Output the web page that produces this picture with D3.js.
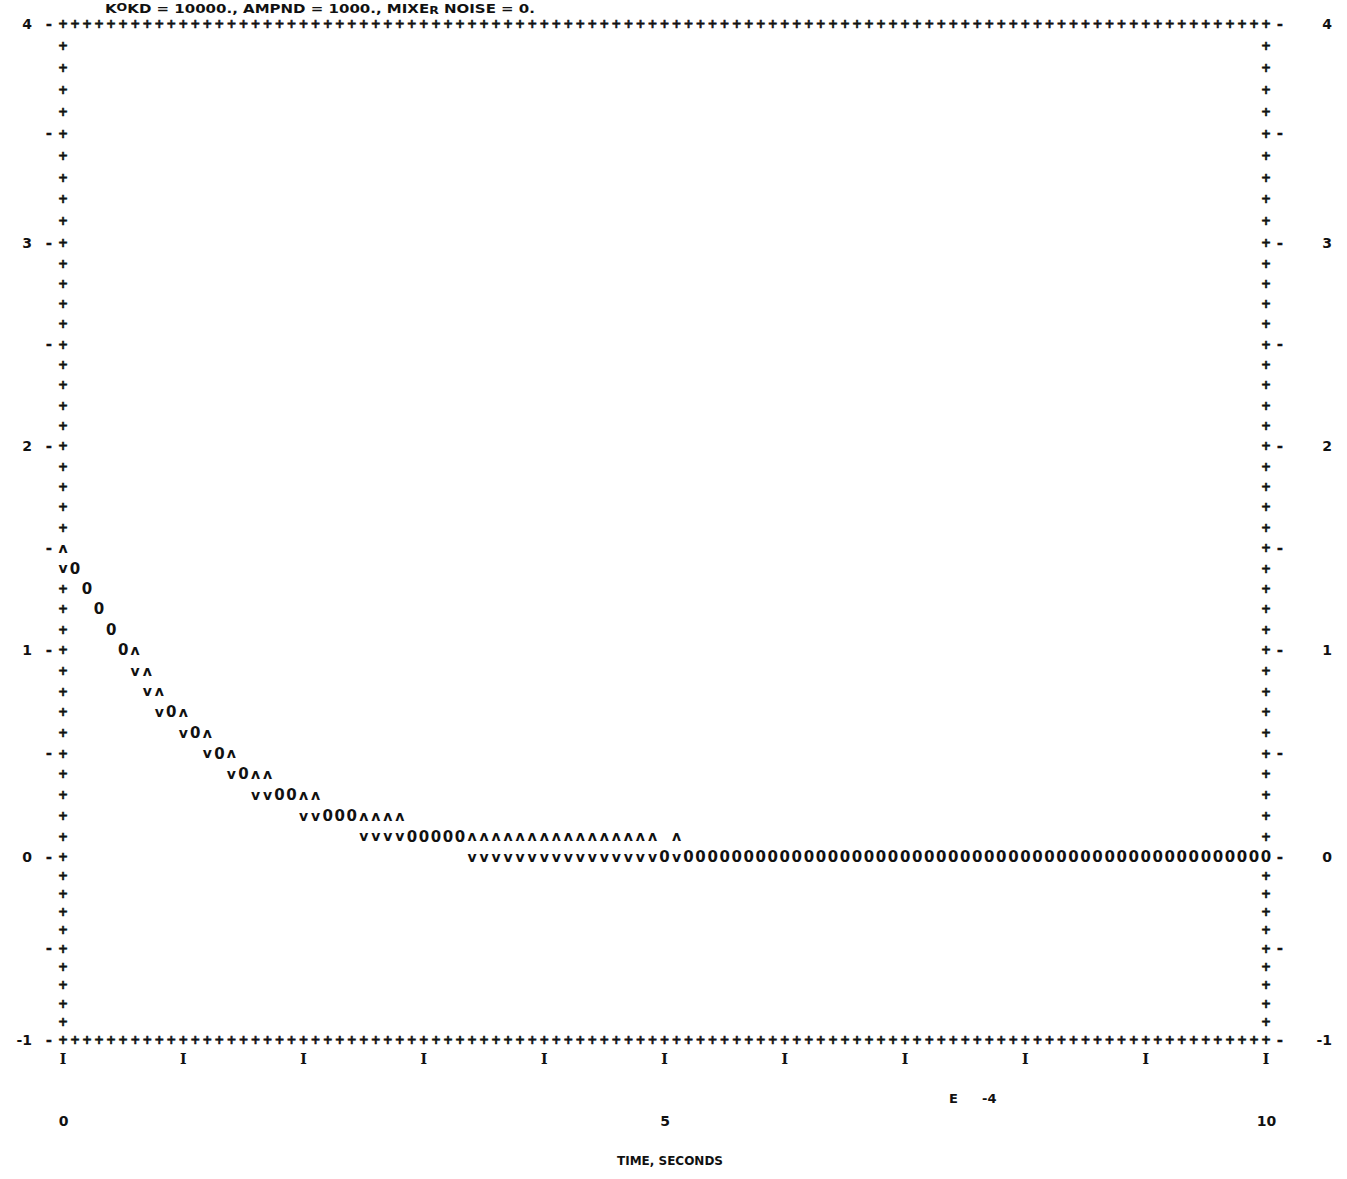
<!DOCTYPE html>
<html>
<head>
<meta charset="utf-8">
<script src="https://cdnjs.cloudflare.com/ajax/libs/d3/7.8.5/d3.min.js"></script>
<style>
  body { margin: 0; background: #fff; }
  text { font-family: "DejaVu Sans", sans-serif; font-weight: bold; fill: #111; }
</style>
</head>
<body>
<div id="plot"></div>
<script>
// Line printer plot: time in units of 1E-4 s (one print column = 0.1)
var yTicks = [4, 3, 2, 1, 0, -1];
var xTicks = [0, 1, 2, 3, 4, 5, 6, 7, 8, 9, 10];
var xTickLabels = [0, 5, 10];

// "0" symbol (response), only the visible characters
var midTime = [0.1, 0.2, 0.3, 0.4, 0.5, 0.9, 1.1, 1.3, 1.5, 1.8, 1.9, 2.2, 2.3, 2.4,
  2.9, 3.0, 3.1, 3.2, 3.3, 5.0,
  5.2, 5.3, 5.4, 5.5, 5.6, 5.7, 5.8, 5.9, 6.0, 6.1, 6.2, 6.3, 6.4, 6.5, 6.6, 6.7, 6.8, 6.9,
  7.0, 7.1, 7.2, 7.3, 7.4, 7.5, 7.6, 7.7, 7.8, 7.9, 8.0, 8.1, 8.2, 8.3, 8.4, 8.5, 8.6, 8.7,
  8.8, 8.9, 9.0, 9.1, 9.2, 9.3, 9.4, 9.5, 9.6, 9.7, 9.8, 9.9, 10.0];
var midValue = [1.4, 1.3, 1.2, 1.1, 1.0, 0.7, 0.6, 0.5, 0.4, 0.3, 0.3, 0.2, 0.2, 0.2,
  0.1, 0.1, 0.1, 0.1, 0.1, 0,
  0, 0, 0, 0, 0, 0, 0, 0, 0, 0, 0, 0, 0, 0, 0, 0, 0, 0,
  0, 0, 0, 0, 0, 0, 0, 0, 0, 0, 0, 0, 0, 0, 0, 0, 0, 0,
  0, 0, 0, 0, 0, 0, 0, 0, 0, 0, 0, 0, 0];

// "^" symbol (upper bound)
var upTime = [0, 0.6, 0.7, 0.8, 1.0, 1.2, 1.4, 1.6, 1.7, 2.0, 2.1, 2.5, 2.6, 2.7, 2.8,
  3.4, 3.5, 3.6, 3.7, 3.8, 3.9, 4.0, 4.1, 4.2, 4.3, 4.4, 4.5, 4.6, 4.7, 4.8, 4.9, 5.1];
var upValue = [1.5, 1.0, 0.9, 0.8, 0.7, 0.6, 0.5, 0.4, 0.4, 0.3, 0.3, 0.2, 0.2, 0.2, 0.2,
  0.1, 0.1, 0.1, 0.1, 0.1, 0.1, 0.1, 0.1, 0.1, 0.1, 0.1, 0.1, 0.1, 0.1, 0.1, 0.1, 0.1];

// "v" symbol (lower bound)
var lowTime = [0, 0.6, 0.7, 0.8, 1.0, 1.2, 1.4, 1.6, 1.7, 2.0, 2.1, 2.5, 2.6, 2.7, 2.8,
  3.4, 3.5, 3.6, 3.7, 3.8, 3.9, 4.0, 4.1, 4.2, 4.3, 4.4, 4.5, 4.6, 4.7, 4.8, 4.9, 5.1];
var lowValue = [1.4, 0.9, 0.8, 0.7, 0.6, 0.5, 0.4, 0.3, 0.3, 0.2, 0.2, 0.1, 0.1, 0.1, 0.1,
  0, 0, 0, 0, 0, 0, 0, 0, 0, 0, 0, 0, 0, 0, 0, 0, 0];

var svgWidth = 1347, svgHeight = 1179;
var margin = { left: 63, right: 1266 };

var svg = d3.select('#plot').append('svg')
    .attr('width', svgWidth)
    .attr('height', svgHeight);

var x = d3.scaleLinear().domain([0, 10]).range([margin.left, margin.right]);
// the scanned printout has slightly uneven line feed, so map each unit separately
var y = d3.scaleLinear()
    .domain([-1, 0, 1, 2, 3, 4])
    .range([1040, 857, 650, 446, 243, 24]);

// title
var title = svg.append('text')
    .attr('x', 105).attr('y', 13)
    .attr('font-size', 12)
    .attr('textLength', 430)
    .attr('lengthAdjust', 'spacingAndGlyphs');
title.append('tspan').text('K');
title.append('tspan').attr('dy', -2).attr('font-size', 10).text('O');
title.append('tspan').attr('dy', 2).text('KD = 10000.,  AMPND =  1000.,  MIXE');
title.append('tspan').attr('dy', 1).attr('font-size', 10).text('R');
title.append('tspan').attr('dy', -1).text(' NOISE = 0.');

// printed border of "+" characters, one per column and one per row
var cols = d3.range(0, 101).map(function(c) { return c / 10; });
var rows = d3.range(0, 51).map(function(r) { return 4 - r / 10; });

var border = svg.append('g').attr('class', 'border')
    .attr('font-size', 12).attr('text-anchor', 'middle')
    .attr('stroke', '#111').attr('stroke-width', 0.6);

border.selectAll('.top').data(cols).enter().append('text')
    .attr('x', d => x(d)).attr('y', y(4)).attr('dy', '0.35em').text('+');
border.selectAll('.bot').data(cols).enter().append('text')
    .attr('x', d => x(d)).attr('y', y(-1)).attr('dy', '0.35em').text('+');
border.selectAll('.lft').data(rows.slice(1, -1)).enter().append('text')
    .attr('x', x(0)).attr('y', d => y(d)).attr('dy', '0.35em').text('+');
border.selectAll('.rgt').data(rows.slice(1, -1)).enter().append('text')
    .attr('x', x(10)).attr('y', d => y(d)).attr('dy', '0.35em').text('+');

// "-" tick marks every five rows on both sides
var halfTicks = rows.filter(function(d, i) { return i % 5 === 0; });
border.selectAll('.ltk').data(halfTicks).enter().append('text')
    .attr('x', x(0) - 14).attr('y', d => y(d)).attr('dy', '0.35em')
    .attr('font-size', 14).text('-');
border.selectAll('.rtk').data(halfTicks).enter().append('text')
    .attr('x', x(10) + 14).attr('y', d => y(d)).attr('dy', '0.35em')
    .attr('font-size', 14).text('-');

// "I" ticks under the bottom row
svg.append('g').selectAll('text').data(xTicks).enter().append('text')
    .attr('x', d => x(d)).attr('y', y(-1) + 19).attr('dy', '0.35em')
    .attr('text-anchor', 'middle')
    .style('font-family', '"DejaVu Serif", serif')
    .attr('font-size', 14).text('I');

// axes for the numeric labels
var fmt = function(d) { return d < 0 ? '-' + (-d) : '' + d; };

var leftAxis = d3.axisLeft(y).tickValues(yTicks).tickSize(0).tickPadding(31).tickFormat(fmt);
var rightAxis = d3.axisRight(y).tickValues(yTicks).tickSize(0).tickPadding(66).tickFormat(fmt);
var bottomAxis = d3.axisBottom(x).tickValues(xTickLabels).tickSize(0).tickPadding(76).tickFormat(fmt);

function styleAxis(g) {
  g.select('.domain').remove();
  g.selectAll('text')
    .attr('font-family', '"DejaVu Sans", sans-serif')
    .attr('font-weight', 'bold')
    .attr('font-size', 14)
    .attr('fill', '#111');
}

svg.append('g').attr('transform', `translate(${margin.left}, 0)`).call(leftAxis).call(styleAxis);
svg.append('g').attr('transform', `translate(${margin.right}, 0)`).call(rightAxis).call(styleAxis)
    .selectAll('text').attr('text-anchor', 'end');
svg.append('g').attr('transform', `translate(0, ${y(-1)})`).call(bottomAxis).call(styleAxis);

var expo = svg.append('text').attr('y', y(-1) + 63).attr('font-size', 13);
expo.append('tspan').attr('x', 949).text('E');
expo.append('tspan').attr('x', 982).text('-4');

svg.append('text')
    .attr('x', 670).attr('y', 1165)
    .attr('font-size', 12).attr('text-anchor', 'middle')
    .text('TIME, SECONDS');

// plotted symbols, printed on top of the border
function plotSeries(times, values, symbol, size) {
  var pts = times.map(function(t, i) { return { t: t, v: values[i] }; });
  // white block under each character so it replaces the border "+"
  svg.append('g').selectAll('rect').data(pts).enter().append('rect')
    .attr('x', d => x(d.t) - 5).attr('y', d => y(d.v) - 7)
    .attr('width', 10).attr('height', 14).attr('fill', '#fff');
  svg.append('g').selectAll('text').data(pts).enter().append('text')
    .attr('x', d => x(d.t)).attr('y', d => y(d.v)).attr('dy', '0.35em')
    .attr('text-anchor', 'middle').attr('font-size', size)
    .text(symbol);
}

plotSeries(midTime, midValue, '0', 15);
plotSeries(upTime, upValue, '\u028C', 14);
plotSeries(lowTime, lowValue, 'v', 14);
</script>
</body>
</html>
